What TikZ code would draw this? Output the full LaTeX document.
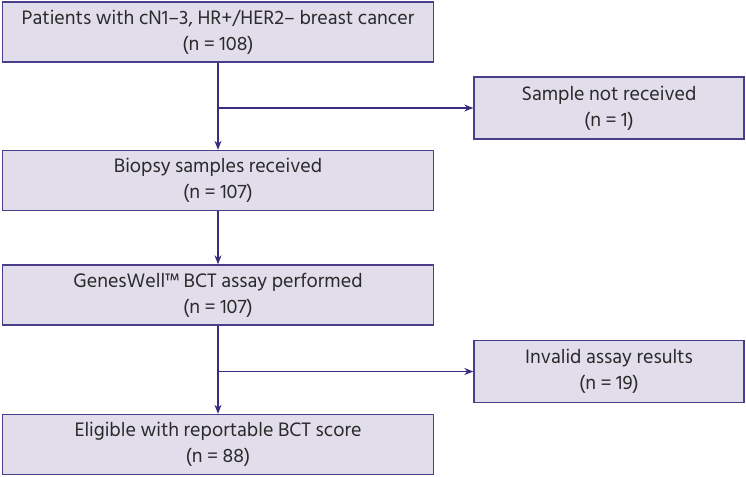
\documentclass[tikz,border=0pt]{standalone}
\usepackage{fontspec}
\setmainfont{Hind Siliguri}
\usetikzlibrary{arrows.meta}
\definecolor{boxfill}{HTML}{E1DDEB}
\definecolor{boxline}{HTML}{4A3E8A}
\definecolor{arrowc}{HTML}{3B2C80}
\definecolor{txt}{HTML}{2A2A2A}
\begin{document}
\begin{tikzpicture}[x=1pt,y=-1pt,
  mainbox/.style={draw=boxline,fill=boxfill,line width=1.4pt,minimum width=431pt,minimum height=60pt,align=center,text=txt,font=\fontsize{20}{26}\selectfont,inner sep=0pt},
  sidebox/.style={draw=boxline,fill=boxfill,line width=1.4pt,minimum width=270pt,minimum height=62pt,align=center,text=txt,font=\fontsize{20}{26}\selectfont,inner sep=0pt},
  conn/.style={draw=arrowc,line width=1.2pt},
  arr/.style={conn,-{Stealth[length=9pt,width=7pt]}}]
\useasboundingbox (0,0) rectangle (746,476);
\node[mainbox] (b1) at (218,32) {Patients with cN1–3, HR+/HER2– breast cancer\\(n = 108)};
\node[mainbox] (b2) at (218,180.5) {Biopsy samples received\\(n = 107)};
\node[mainbox] (b3) at (218,295) {GenesWell™ BCT assay performed\\(n = 107)};
\node[mainbox] (b4) at (218,444.5) {Eligible with reportable BCT score\\(n = 88)};
\node[sidebox] (s1) at (609,108) {Sample not received\\(n = 1)};
\node[sidebox] (s2) at (609,371.5) {Invalid assay results\\(n = 19)};
\coordinate (j1) at (218,108);
\coordinate (j2) at (218,371.5);
\draw[arr] (b1.south) -- (b2.north);
\draw[arr] (j1) -- (s1.west);
\draw[arr] (b2.south) -- (b3.north);
\draw[arr] (b3.south) -- (b4.north);
\draw[arr] (j2) -- (s2.west);
\end{tikzpicture}
\end{document}
